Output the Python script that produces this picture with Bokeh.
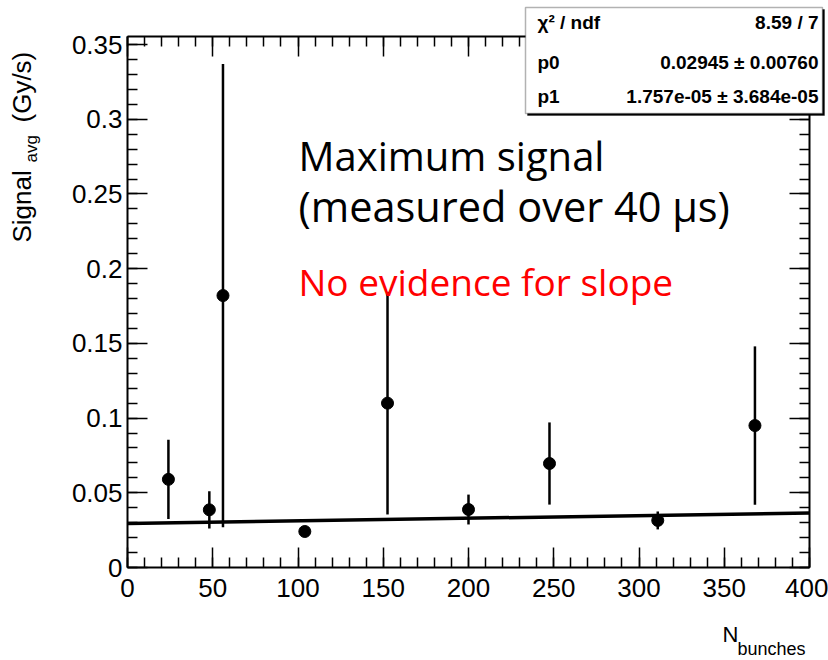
import math
import numpy as np
from bokeh.plotting import figure
from bokeh.models import (Label, BoxAnnotation, LinearAxis, FixedTicker,
                          CustomJSTickFormatter, Range1d, ColumnDataSource)
from bokeh.embed import file_html
from bokeh.resources import INLINE

# ---------------- data ----------------
n_bunches = [24, 48, 56, 104, 152.5, 200, 247.5, 311, 368]
signal_avg = [0.0590, 0.0386, 0.182, 0.0241, 0.110, 0.0388, 0.0696, 0.0315, 0.095]
signal_err = [0.0265, 0.0125, 0.155, 0.0030, 0.0745, 0.0100, 0.0275, 0.0060, 0.053]

# linear fit  p0 + p1 * x
fit_p0 = 0.02945
fit_p1 = 1.757e-05
fit_x = [0, 400]

stat_names = ["χ² / ndf", "p0", "p1"]
stat_values = ["8.59 / 7", "0.02945 ± 0.00760", "1.757e-05 ± 3.684e-05"]

x_ticks = [0, 50, 100, 150, 200, 250, 300, 350, 400]
y_ticks = [0, 0.05, 0.1, 0.15, 0.2, 0.25, 0.3, 0.35]

XMIN, XMAX = 0, 400
YMIN, YMAX = 0, 0.3554

# ---------------- layout helpers ----------------
W, H = 828, 660
FL, FR, FT, FB = 127, 809, 36, 567  # edges of the axes box in pixels


def px_x(px):
    return XMIN + (px - FL) / (FR - FL) * (XMAX - XMIN)


def px_y(py):
    return YMIN + (FB - py) / (FB - FT) * (YMAX - YMIN)


# the frame covers the whole canvas; the four axes sit at fixed places round the data box
p = figure(width=W, height=H,
           x_range=Range1d(px_x(0), px_x(W)), y_range=Range1d(px_y(H), px_y(0)),
           output_backend="svg", toolbar_location=None,
           x_axis_location=None, y_axis_location=None,
           min_border=0, min_border_left=0, min_border_right=0,
           min_border_top=0, min_border_bottom=0)
p.grid.visible = False
p.outline_line_color = None
p.background_fill_color = "white"
p.border_fill_color = "white"

fmt_y = CustomJSTickFormatter(code="return tick.toFixed(2).replace(/\\.?0+$/, '');")

ax_b = LinearAxis(fixed_location=YMIN, bounds=(XMIN, XMAX))
ax_t = LinearAxis(fixed_location=YMAX, bounds=(XMIN, XMAX))
ax_l = LinearAxis(fixed_location=XMIN, bounds=(YMIN, YMAX), formatter=fmt_y)
ax_r = LinearAxis(fixed_location=XMAX, bounds=(YMIN, YMAX), formatter=fmt_y)

for ax in (ax_b, ax_t):
    ax.ticker = FixedTicker(ticks=x_ticks, minor_ticks=list(range(0, 401, 10)))
for ax in (ax_l, ax_r):
    ax.ticker = FixedTicker(ticks=y_ticks, minor_ticks=[round(0.01 * i, 2) for i in range(0, 36)])

for ax in (ax_b, ax_t, ax_l, ax_r):
    ax.axis_label = None
    ax.axis_line_color = "black"
    ax.axis_line_width = 2
    ax.major_tick_line_color = "black"
    ax.minor_tick_line_color = "black"
    ax.major_tick_line_width = 1.5
    ax.minor_tick_line_width = 1.5
    ax.major_tick_in = 20
    ax.major_tick_out = 0
    ax.minor_tick_in = 10
    ax.minor_tick_out = 0
    ax.major_label_text_font = "Liberation Sans"
    ax.major_label_text_font_size = "26px"
    ax.major_label_text_color = "black"

for ax in (ax_t, ax_r):
    ax.major_label_text_color = None
    ax.major_label_standoff = 0
ax_b.major_label_standoff = 11
ax_l.major_label_standoff = 5

p.add_layout(ax_b, "below")
p.add_layout(ax_t, "above")
p.add_layout(ax_l, "left")
p.add_layout(ax_r, "right")

# ---------------- data marks ----------------
x = np.array(n_bunches)
y = np.array(signal_avg)
e = np.array(signal_err)
src = ColumnDataSource(dict(x=x, y=y, lo=y - e, hi=y + e))

p.segment(x0="x", y0="lo", x1="x", y1="hi", source=src, line_color="black", line_width=2.5)
p.scatter(x="x", y="y", source=src, size=12, fill_color="black", line_color="black")

fx = np.array(fit_x, dtype=float)
p.line(fx, fit_p0 + fit_p1 * fx, line_color="black", line_width=3.5)


# ---------------- annotations ----------------
def px_label(px, py, text, **kw):
    kw.setdefault("text_color", "black")
    p.add_layout(Label(x=px_x(px), y=px_y(py), text=text, text_baseline="alphabetic", **kw))


px_label(298, 155, "Maximum signal", text_font="Open Sans", text_font_size="40px")
px_label(298, 205, "(measured over 40 μs)", text_font="Open Sans", text_font_size="41.5px")
px_label(298, 281, "No evidence for slope", text_font="Open Sans", text_font_size="37px",
         text_color="#ff0000")

# statistics box
p.add_layout(BoxAnnotation(left=px_x(527), right=px_x(824), top=px_y(9), bottom=px_y(115),
                           fill_color="black", fill_alpha=1, line_color="black", line_width=1))
p.add_layout(BoxAnnotation(left=px_x(525), right=px_x(822), top=px_y(7), bottom=px_y(113),
                           fill_color="white", fill_alpha=1, line_color="black", line_width=1.5))
row_y = [22, 62, 96]
for name, val, by in zip(stat_names, stat_values, row_y):
    px_label(537, by, name, text_font="Liberation Sans", text_font_style="bold",
             text_font_size="19px")
    px_label(818, by, val, text_font="Liberation Sans", text_font_style="bold",
             text_font_size="19px", text_align="right")

# axis titles
px_label(21, 242, "Signal", angle=math.pi / 2, text_font="Liberation Sans", text_font_size="26px")
px_label(31, 162, "avg", angle=math.pi / 2, text_font="Liberation Sans", text_font_size="17px")
px_label(21, 122, "(Gy/s)", angle=math.pi / 2, text_font="Liberation Sans", text_font_size="26px")
px_label(722, 634, "N", text_font="Liberation Sans", text_font_size="22px")
px_label(737, 648, "bunches", text_font="Liberation Sans", text_font_size="18px")

open("out.html", "w").write(file_html(p, INLINE))
